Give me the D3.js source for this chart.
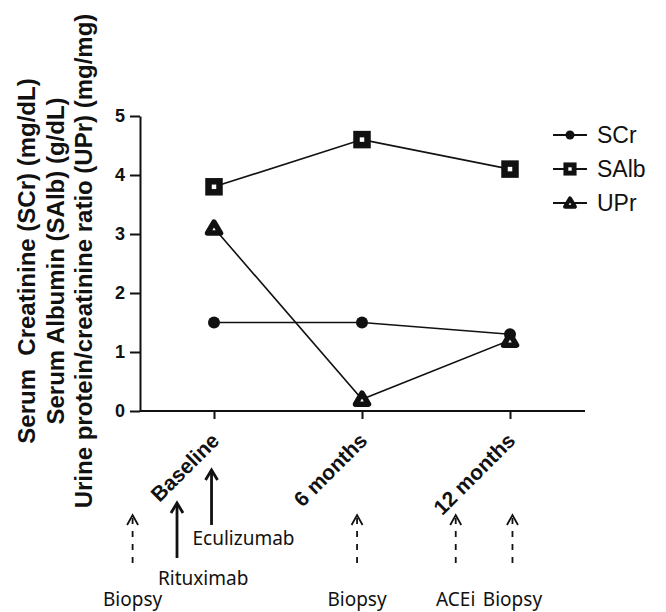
<!DOCTYPE html>
<html>
<head>
<meta charset="utf-8">
<script src="https://cdn.jsdelivr.net/npm/d3@7/dist/d3.min.js"></script>
<style>
  body { margin: 0; background: #fff; }
  svg { display: block; }
</style>
</head>
<body>
<div id="chart"></div>
<script>
// Data
var timepoints = ["Baseline", "6 months", "12 months"];
var scrValues = [1.5, 1.5, 1.3];
var salbValues = [3.8, 4.6, 4.1];
var uprValues = [3.1, 0.2, 1.2];
var yTicks = [0, 1, 2, 3, 4, 5];
var seriesNames = ["SCr", "SAlb", "UPr"];
var yTitleLines = [
    "Serum  Creatinine (SCr) (mg/dL)",
    "Serum Albumin (SAlb) (g/dL)",
    "Urine protein/creatinine ratio (UPr) (mg/mg)"
];

// Events along the time line (months relative to baseline, estimated)
var eventNames = ["Biopsy", "Rituximab", "Eculizumab", "Biopsy", "ACEi", "Biopsy"];
var eventMonths = [-3.3, -1.5, -0.1, 5.8, 9.8, 12.1];
var eventDashed = [true, false, false, true, true, true];

var width = 666, height = 612;
var sans = "'Liberation Sans', Arial, Helvetica, sans-serif";
var noteFont = "'Noto Sans', 'Open Sans', sans-serif";

var svg = d3.select("#chart").append("svg")
    .attr("width", width)
    .attr("height", height);

// Scales
var x = d3.scalePoint().domain(timepoints).range([214, 510]);
var month = d3.scaleLinear().domain([0, 12]).range([x("Baseline"), x("12 months")]);
var y = d3.scaleLinear().domain([0, 5]).range([411, 116]);
var axisLeftX = 140;

// Y axis
var yAxis = svg.append("g")
    .attr("transform", "translate(" + axisLeftX + ",0)")
    .call(d3.axisLeft(y).tickValues(yTicks).tickFormat(d3.format("d"))
        .tickSize(10).tickSizeOuter(0).tickPadding(5));
yAxis.select(".domain").attr("stroke", "#111").attr("stroke-width", 2);
yAxis.selectAll(".tick line").attr("stroke", "#111").attr("stroke-width", 2);
yAxis.selectAll(".tick text")
    .attr("font-family", sans)
    .attr("font-size", 18)
    .attr("font-weight", "bold")
    .attr("fill", "#111");

// X axis: base line runs past the last tick
svg.append("line")
    .attr("x1", axisLeftX).attr("x2", 585)
    .attr("y1", y(0)).attr("y2", y(0))
    .attr("stroke", "#111").attr("stroke-width", 2);

var xAxis = svg.append("g")
    .attr("transform", "translate(0," + y(0) + ")")
    .call(d3.axisBottom(x).tickSize(8).tickSizeOuter(0));
xAxis.select(".domain").remove();
xAxis.selectAll(".tick line").attr("stroke", "#111").attr("stroke-width", 2);
xAxis.selectAll(".tick text")
    .attr("y", null).attr("dy", null)
    .attr("transform", "translate(6,31) rotate(-45)")
    .attr("text-anchor", "end")
    .attr("font-family", sans)
    .attr("font-size", 21)
    .attr("font-weight", "bold")
    .attr("fill", "#111");

// Y axis title, three rotated lines
svg.append("g").selectAll("text")
    .data(yTitleLines)
    .enter().append("text")
    .attr("transform", function(d, i) {
        return "translate(" + (35 + i * 28.5) + ",261) rotate(-90)";
    })
    .attr("text-anchor", "middle")
    .attr("font-family", sans)
    .attr("font-size", 24)
    .attr("font-weight", "bold")
    .attr("fill", "#111")
    .style("white-space", "pre")
    .text(function(d) { return d; });

// Marker drawing
function drawMarker(g, type, s) {
    if (type === "SCr") {
        g.append("circle").attr("r", 6 * s).attr("fill", "#111");
    } else if (type === "SAlb") {
        var a = 11 * s;
        g.append("rect")
            .attr("x", -a / 2).attr("y", -a / 2)
            .attr("width", a).attr("height", a)
            .attr("fill", "#fff").attr("stroke", "#111")
            .attr("stroke-width", 6.5 * s);
    } else {
        var w = 6.5 * s, t = 6 * s, b = 5 * s;
        g.append("path")
            .attr("d", "M0," + (-t) + "L" + w + "," + b + "L" + (-w) + "," + b + "Z")
            .attr("fill", "#fff").attr("stroke", "#111")
            .attr("stroke-width", 5.5 * s)
            .attr("stroke-linejoin", "round");
    }
}

var series = [
    {name: seriesNames[0], values: scrValues},
    {name: seriesNames[1], values: salbValues},
    {name: seriesNames[2], values: uprValues}
];

var line = d3.line()
    .x(function(d, i) { return x(timepoints[i]); })
    .y(function(d) { return y(d); });

var seriesG = svg.append("g").selectAll("g")
    .data(series)
    .enter().append("g");

seriesG.append("path")
    .attr("d", function(d) { return line(d.values); })
    .attr("fill", "none")
    .attr("stroke", "#111")
    .attr("stroke-width", 1.6);

seriesG.each(function(s) {
    var grp = d3.select(this);
    s.values.forEach(function(v, i) {
        var m = grp.append("g")
            .attr("transform", "translate(" + x(timepoints[i]) + "," + y(v) + ")");
        drawMarker(m, s.name, 1);
    });
});

// Legend
var legendY = d3.scalePoint().domain(seriesNames).range([135, 203]);
var legend = svg.append("g").selectAll("g")
    .data(seriesNames)
    .enter().append("g")
    .attr("transform", function(d) { return "translate(570," + legendY(d) + ")"; });

legend.append("line")
    .attr("x1", -17).attr("x2", 17)
    .attr("stroke", "#111").attr("stroke-width", 1.8);
legend.each(function(d) { drawMarker(d3.select(this), d, 0.75); });
legend.append("text")
    .attr("x", 27)
    .attr("dy", "0.36em")
    .attr("font-family", sans)
    .attr("font-size", 23)
    .attr("fill", "#111")
    .text(function(d) { return d; });

// Event arrows under the axis
var events = eventNames.map(function(n, i) {
    return {name: n, month: eventMonths[i], dashed: eventDashed[i]};
});
var solidTops = [503, 470], solidLabelY = [585, 545];
var solidIndex = 0;

events.forEach(function(e) {
    var ex = month(e.month);
    var g = svg.append("g");
    if (e.dashed) {
        g.append("line")
            .attr("x1", ex).attr("x2", ex)
            .attr("y1", 518).attr("y2", 568)
            .attr("stroke", "#111").attr("stroke-width", 1.8)
            .attr("stroke-dasharray", "6,7");
        g.append("path")
            .attr("d", "M" + (ex - 5.5) + ",525L" + ex + ",515L" + (ex + 5.5) + ",525")
            .attr("fill", "none").attr("stroke", "#111").attr("stroke-width", 1.8);
        g.append("text")
            .attr("x", ex).attr("y", 606)
            .attr("text-anchor", "middle")
            .attr("font-family", noteFont)
            .attr("font-size", 19)
            .attr("fill", "#111")
            .text(e.name);
    } else {
        var top = solidTops[solidIndex], labelY = solidLabelY[solidIndex];
        solidIndex++;
        g.append("line")
            .attr("x1", ex).attr("x2", ex)
            .attr("y1", top + 1).attr("y2", top + 55)
            .attr("stroke", "#111").attr("stroke-width", 2.8);
        g.append("path")
            .attr("d", "M" + (ex - 6) + "," + (top + 10) + "L" + ex + "," + top + "L" + (ex + 6) + "," + (top + 10))
            .attr("fill", "none").attr("stroke", "#111").attr("stroke-width", 2.8);
        g.append("text")
            .attr("x", ex - 19).attr("y", labelY)
            .attr("font-family", noteFont)
            .attr("font-size", 19)
            .attr("fill", "#111")
            .text(e.name);
    }
});
</script>
</body>
</html>
